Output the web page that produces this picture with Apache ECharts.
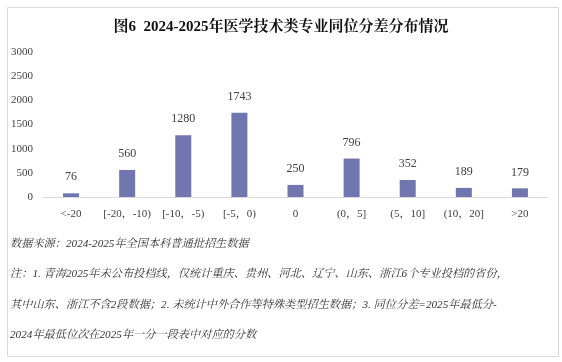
<!DOCTYPE html>
<html><head><meta charset="utf-8">
<script src="https://cdn.jsdelivr.net/npm/echarts@6/dist/echarts.min.js"></script>
<style>html,body{margin:0;padding:0;background:#fff}#c{width:562px;height:362px}</style>
</head><body><div id="c"></div>
<script>
const title = '图6  2024-2025年医学技术类专业同位分差分布情况';
const categories = ['<-20', '[-20，-10)', '[-10，-5)', '[-5，0)', '0', '(0，5]', '(5，10]', '(10，20]', '>20'];
const values = [76, 560, 1280, 1743, 250, 796, 352, 189, 179];
const yTicks = [0, 500, 1000, 1500, 2000, 2500, 3000];
const notes = [
  '数据来源：2024-2025年全国本科普通批招生数据',
  '注：1. 青海2025年未公布投档线，仅统计重庆、贵州、河北、辽宁、山东、浙江6个专业投档的省份，',
  '其中山东、浙江不含2段数据；2. 未统计中外合作等特殊类型招生数据；3. 同位分差=2025年最低分-',
  '2024年最低位次在2025年一分一段表中对应的分数'
];
const serif = '"Liberation Serif","Noto Serif CJK SC","Noto Sans CJK SC",serif';
const chart = echarts.init(document.getElementById('c'));
const graphics = [{
  type: 'rect', left: 5, top: 5, shape: {width: 551, height: 349},
  style: {fill: 'none', stroke: '#d9d9d9', lineWidth: 1}, silent: true
}];
notes.forEach((t, i) => graphics.push({
  type: 'text', left: 10, top: 238 + i * 30.5,
  style: {text: t, font: 'italic 11.2px ' + serif, fill: '#333'}
}));
chart.setOption({
  animation: false,
  title: {text: title, left: 'center', top: 15,
    textStyle: {fontFamily: serif, fontSize: 15, fontWeight: 'bold', color: '#111'}},
  grid: {left: 43, right: 14, top: 52, bottom: 165, containLabel: false},
  xAxis: {type: 'category', data: categories,
    axisLine: {lineStyle: {color: '#d9d9d9'}}, axisTick: {show: false},
    axisLabel: {fontFamily: serif, fontSize: 11, color: '#404040', margin: 12, interval: 0}},
  yAxis: {type: 'value', min: yTicks[0], max: yTicks[yTicks.length - 1], interval: 500,
    splitLine: {show: false}, axisLine: {show: false}, axisTick: {show: false},
    axisLabel: {fontFamily: serif, fontSize: 11, color: '#404040', margin: 10,
      formatter: v => String(v)}},
  series: [{type: 'bar', data: values, barWidth: 16,
    itemStyle: {color: '#7176b0'},
    label: {show: true, position: 'top', distance: 10, fontFamily: serif, fontSize: 12, color: '#404040'}}],
  graphic: graphics
});
</script></body></html>
